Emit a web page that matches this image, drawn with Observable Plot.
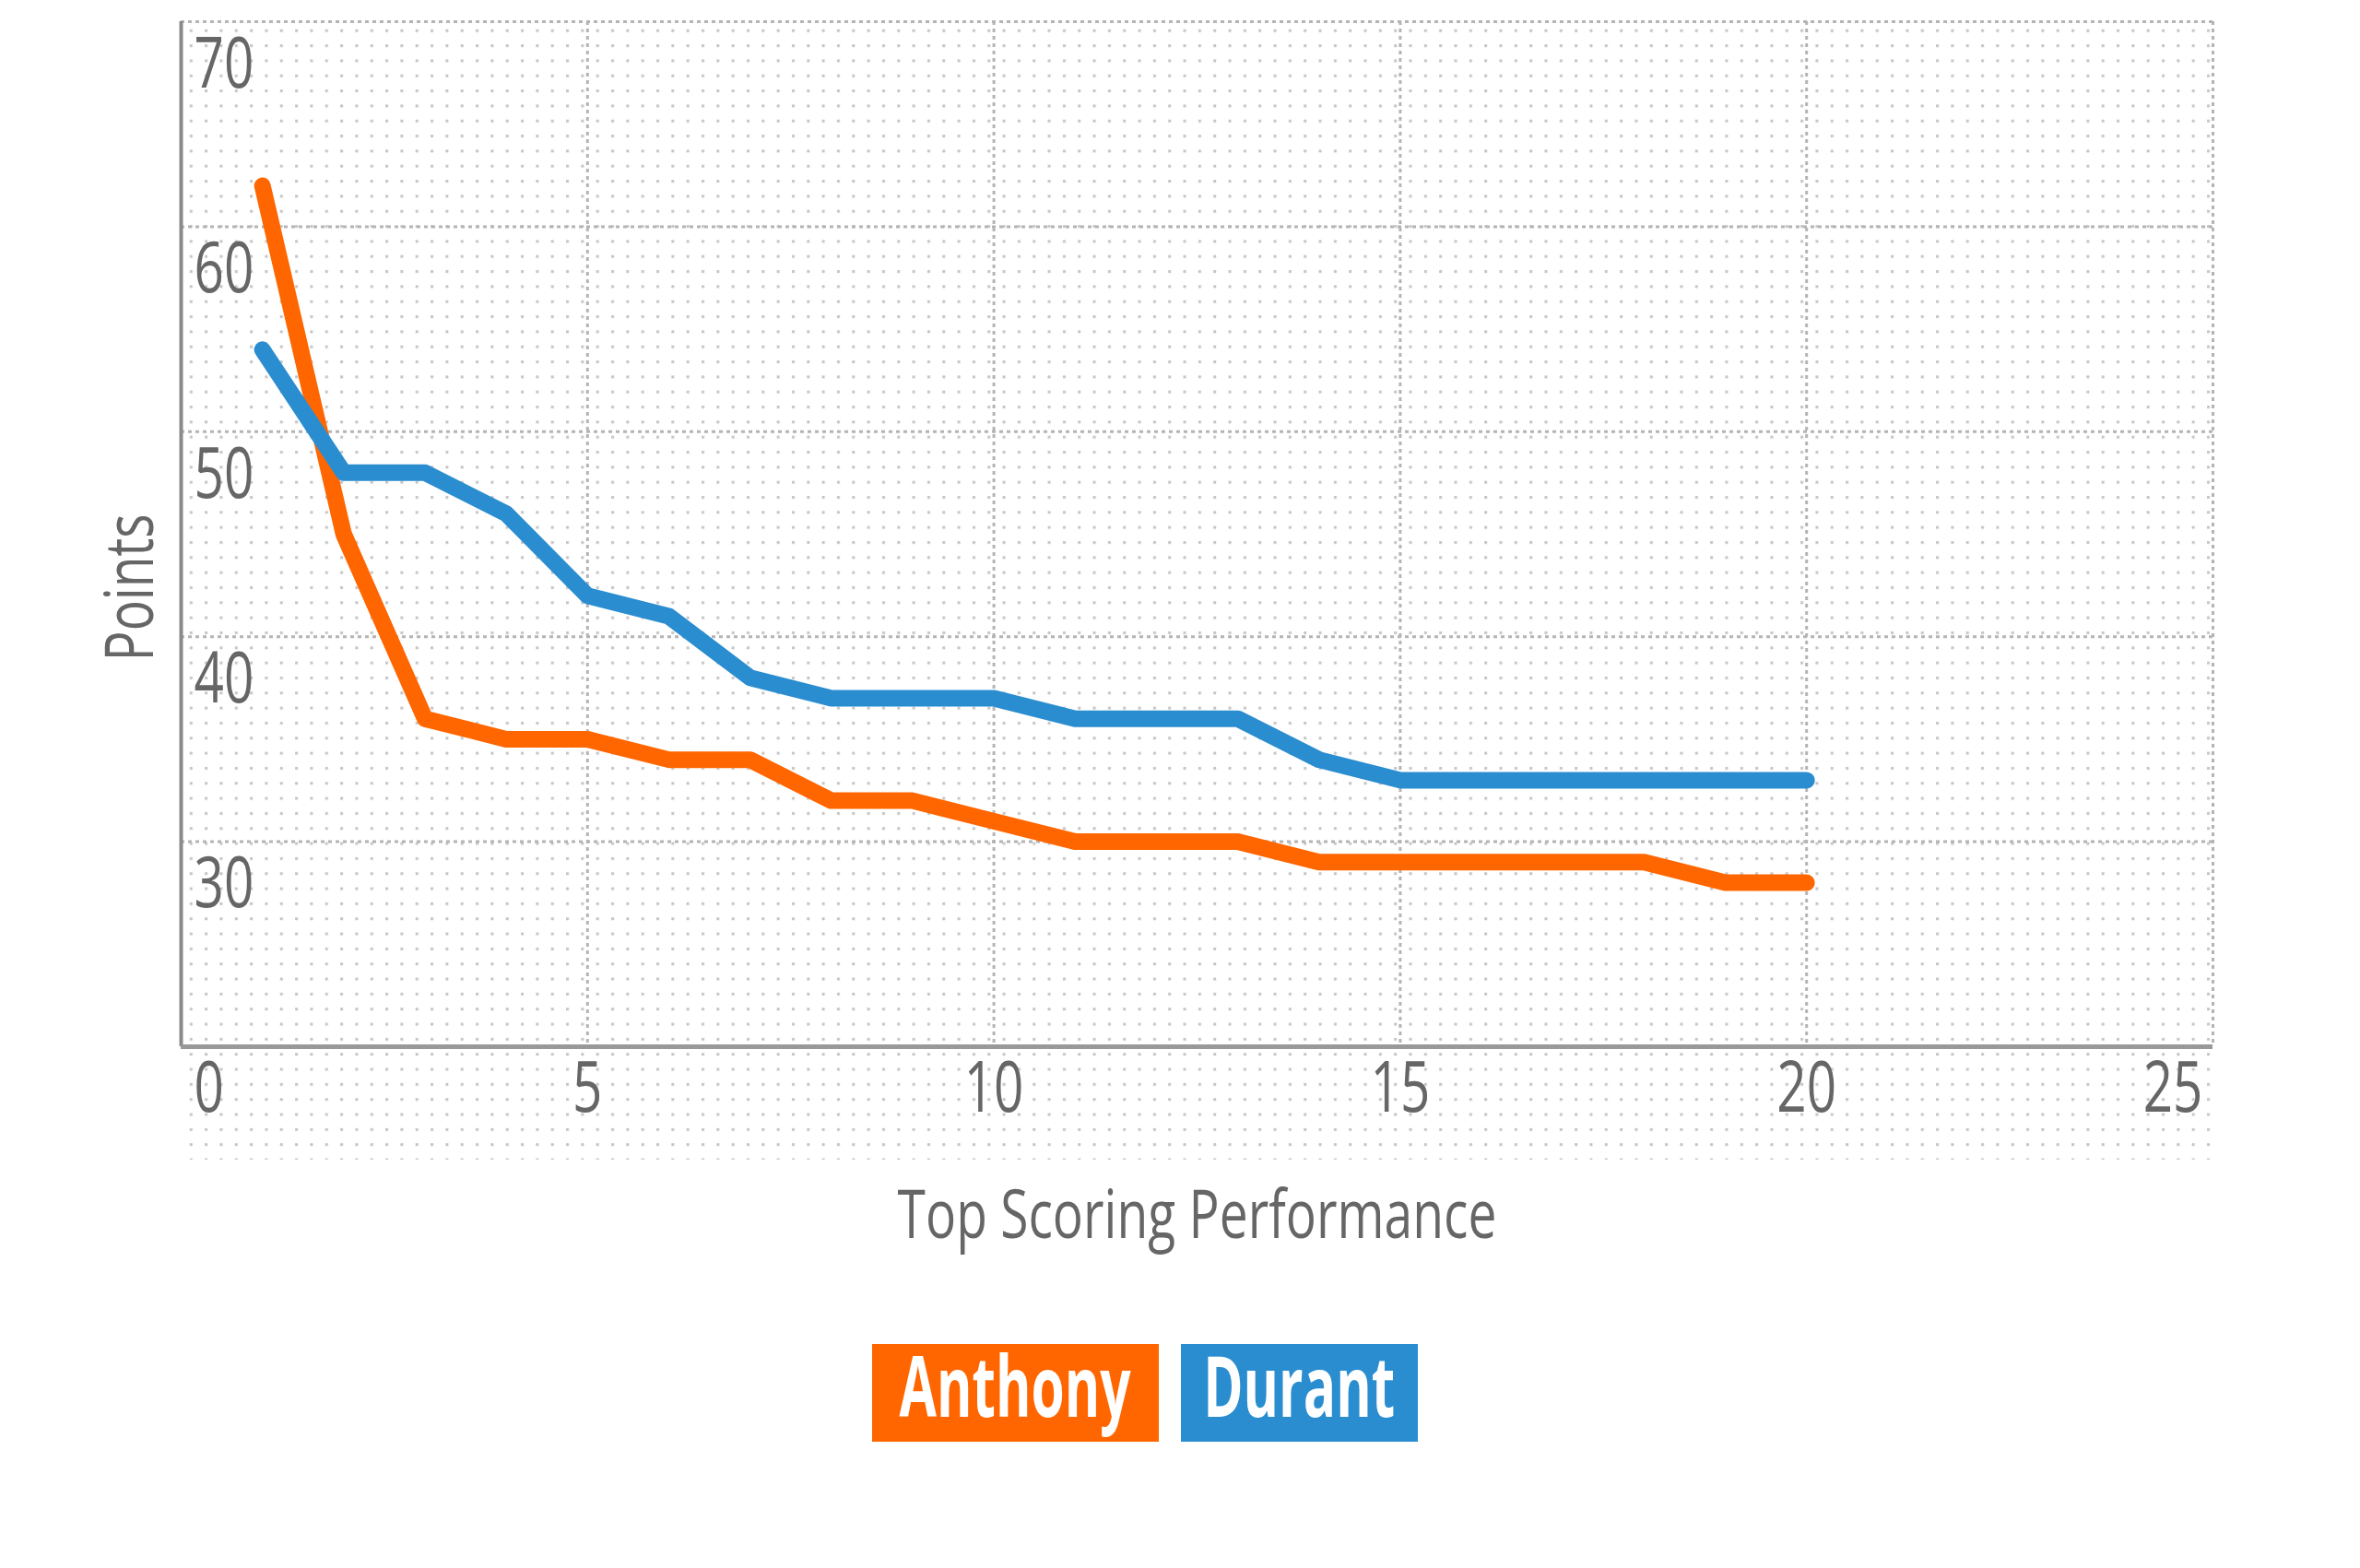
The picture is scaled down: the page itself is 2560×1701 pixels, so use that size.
<!DOCTYPE html>
<html>
<head>
<meta charset="utf-8">
<script src="https://cdn.jsdelivr.net/npm/d3@7"></script>
<script src="https://cdn.jsdelivr.net/npm/@observablehq/plot@0.6"></script>
<style>
html, body { margin: 0; padding: 0; background: #fff; }
#wrap { position: relative; width: 2560px; height: 1701px; overflow: hidden; }
.leg { position: absolute; top: 1458px; height: 106px; color: #fff;
  font-family: "Open Sans", sans-serif; font-weight: 700; font-size: 92px;
  display: flex; align-items: center; justify-content: center; }
.leg span { display: inline-block; white-space: nowrap; line-height: 1; transform-origin: 50% 50%; }
</style>
</head>
<body>
<div id="wrap"></div>
<script>
const series = ["Anthony", "Durant"];
const seriesColors = ["#ff6600", "#2a8dd0"];
const rank = [1, 2, 3, 4, 5, 6, 7, 8, 9, 10, 11, 12, 13, 14, 15, 16, 17, 18, 19, 20];
const anthony = [62, 45, 36, 35, 35, 34, 34, 32, 32, 31, 30, 30, 30, 29, 29, 29, 29, 29, 28, 28];
const durant  = [54, 48, 48, 46, 42, 41, 38, 37, 37, 37, 36, 36, 36, 34, 33, 33, 33, 33, 33, 33];
const xTicks = [0, 5, 10, 15, 20, 25];
const yTicks = [30, 40, 50, 60, 70];
const xGrid = [5, 10, 15, 20, 25];
const xLabel = "Top Scoring Performance";
const yLabel = "Points";

const rows = [];
rank.forEach((r, i) => rows.push({series: series[0], rank: r, points: anthony[i]}));
rank.forEach((r, i) => rows.push({series: series[1], rank: r, points: durant[i]}));

const FONT = "'Open Sans', sans-serif";
const tickStyle = {fontSize: 76, fill: "#666", lineAnchor: "middle"};

const plot = Plot.plot({
  width: 2560,
  height: 1420,
  marginLeft: 196,
  marginRight: 160,
  marginTop: 23,
  marginBottom: 285,
  style: {fontFamily: FONT, background: "transparent", overflow: "visible"},
  x: {domain: [0, 25], axis: null},
  y: {domain: [20, 70], axis: null},
  color: {domain: series, range: seriesColors},
  marks: [
    Plot.ruleY(yTicks, {stroke: "#b4b4b4", strokeWidth: 3, strokeDasharray: "4,4"}),
    Plot.ruleX(xGrid, {stroke: "#b4b4b4", strokeWidth: 3, strokeDasharray: "4,4"}),
    Plot.ruleX([0], {stroke: "#8a8a8a", strokeWidth: 4}),
    Plot.ruleY([20], {stroke: "#999", strokeWidth: 5}),
    Plot.text(yTicks, {y: d => d, text: d => String(d), frameAnchor: "left", textAnchor: "start", dx: 14, dy: 47, ...tickStyle}),
    Plot.text(xTicks.slice(0, 1), {x: d => d, text: d => String(d), frameAnchor: "bottom", textAnchor: "start", dx: 14, dy: 46, ...tickStyle}),
    Plot.text(xTicks.slice(1, -1), {x: d => d, text: d => String(d), frameAnchor: "bottom", textAnchor: "middle", dy: 46, ...tickStyle}),
    Plot.text(xTicks.slice(-1), {x: d => d, text: d => String(d), frameAnchor: "bottom", textAnchor: "end", dx: -11, dy: 46, ...tickStyle}),
    Plot.text([xLabel], {frameAnchor: "bottom", textAnchor: "middle", dy: 184, fontSize: 74, fill: "#666", lineAnchor: "middle", className: "xlabel"}),
    Plot.text([yLabel], {frameAnchor: "left", textAnchor: "middle", rotate: -90, dx: -54, dy: 58, fontSize: 74, fill: "#666", lineAnchor: "middle"}),
    Plot.line(rows, {x: "rank", y: "points", z: "series", stroke: "series", strokeWidth: 18,
      strokeLinejoin: "round", strokeLinecap: "round"})
  ]
});

// dotted paper background behind the marks (extends a little below the x axis)
const xr = plot.scale("x").range;
const yr = plot.scale("y").range;
const svg = d3.select(plot);
const defs = svg.insert("defs", ":first-child");
const step = 16.33;
const pat = defs.append("pattern").attr("id", "dots").attr("patternUnits", "userSpaceOnUse")
  .attr("x", xr[0] + 3).attr("y", yr[1] + 2).attr("width", step).attr("height", step);
pat.append("rect").attr("x", 6.8).attr("y", 6.8).attr("width", 3).attr("height", 3).attr("fill", "#c4c4c4");
const bg = document.createElementNS("http://www.w3.org/2000/svg", "rect");
bg.setAttribute("x", xr[0]);
bg.setAttribute("y", yr[1]);
bg.setAttribute("width", xr[1] - xr[0]);
bg.setAttribute("height", (yr[0] - yr[1]) + 123);
bg.setAttribute("fill", "url(#dots)");
plot.insertBefore(bg, plot.querySelector("g"));

const wrap = document.getElementById("wrap");
wrap.appendChild(plot);

// condensed look: squeeze all texts horizontally so the axis title gets its reference width
const targetTitleWidth = 650;
const titleNode = plot.querySelector(".xlabel text");
const k = targetTitleWidth / titleNode.getComputedTextLength();
plot.querySelectorAll("text").forEach(t => {
  t.setAttribute("transform", (t.getAttribute("transform") || "") + ` scale(${k},1)`);
});

// legend
const legendBoxes = [{left: 946, width: 311}, {left: 1281, width: 257}];
const spans = [];
series.forEach((s, i) => {
  const d = document.createElement("div");
  d.className = "leg";
  d.style.left = legendBoxes[i].left + "px";
  d.style.width = legendBoxes[i].width + "px";
  d.style.background = seriesColors[i];
  const sp = document.createElement("span");
  sp.textContent = s;
  d.appendChild(sp);
  wrap.appendChild(d);
  spans.push(sp);
});
const kl = 251 / spans[0].offsetWidth;
spans.forEach(sp => sp.style.transform = `translateY(-9px) scaleX(${kl})`);
</script>
</body>
</html>
